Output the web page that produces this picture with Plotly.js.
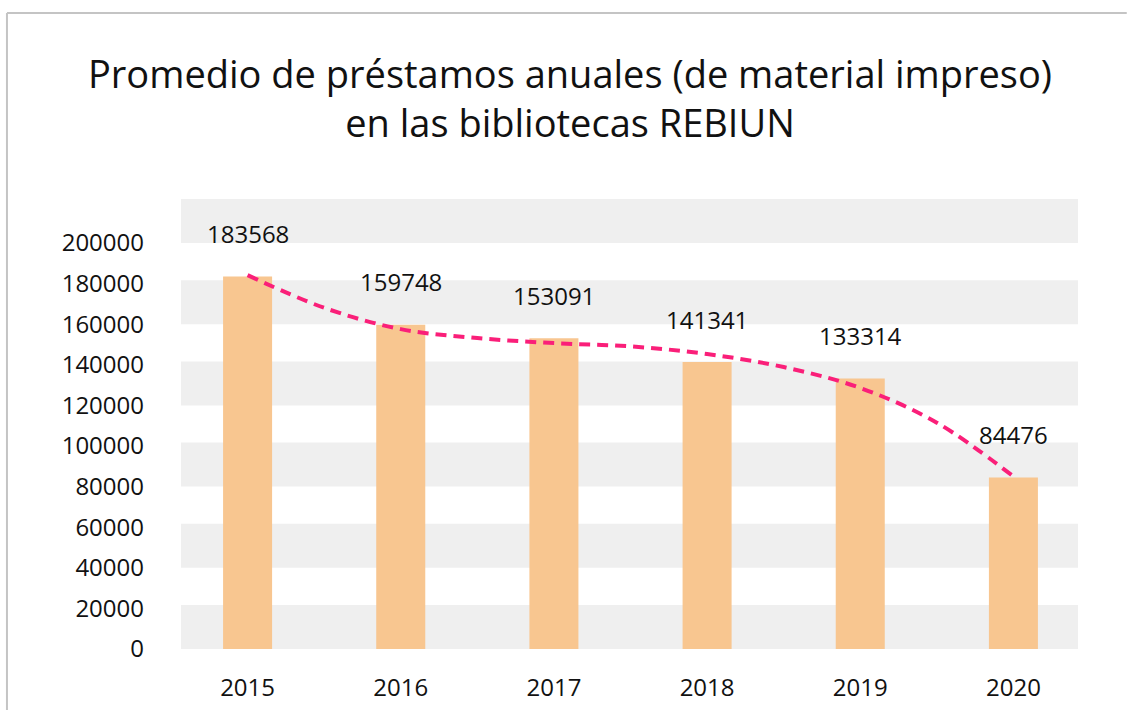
<!DOCTYPE html>
<html>
<head>
<meta charset="utf-8">
<script src="https://cdn.plot.ly/plotly-3.0.1.min.js"></script>
<style>html,body{margin:0;padding:0;background:#fff;}#chart{width:1131px;height:710px;}</style>
</head>
<body>
<div id="chart"></div>
<script>
// Data
const years = [2015, 2016, 2017, 2018, 2019, 2020];
const loans = [183568, 159748, 153091, 141341, 133314, 84476];
const labels = ['183568', '159748', '153091', '141341', '133314', '84476'];
// Trend line
const trendX = [2015, 2015.5, 2016, 2016.5, 2017, 2017.5, 2018, 2018.5, 2019, 2019.5, 2020];
const trendY = [184200, 168100, 157600, 153200, 150700, 149100, 145300, 138900, 128600, 111500, 85000];
const yTicks = [0, 20000, 40000, 60000, 80000, 100000, 120000, 140000, 160000, 180000, 200000];

const FONT = 'Open Sans, Lato, sans-serif';

const shapes = [];
for (let k = 0; k < 6; k++) {
  shapes.push({type: 'rect', xref: 'paper', yref: 'y', x0: 0.0109, x1: 0.987,
    y0: 40000 * k, y1: 40000 * k + 21700, fillcolor: '#efefef', line: {width: 0}, layer: 'below'});
}
// frame lines
shapes.push({type: 'line', xref: 'paper', yref: 'paper', x0: -0.1785, x1: 1.04, y0: 1.4133, y1: 1.4133, line: {color: '#c4c4c4', width: 2}});
shapes.push({type: 'line', xref: 'paper', yref: 'paper', x0: -0.1785, x1: -0.1785, y0: 1.4133, y1: -0.2, line: {color: '#c4c4c4', width: 2}});

const annotations = years.map((yr, i) => ({
  x: yr, y: loans[i], text: labels[i], showarrow: false, yshift: 43, yanchor: 'middle',
  font: {family: FONT, size: 24, color: '#111'}
}));

const traces = [
  {type: 'bar', x: years, y: loans, width: 0.32, marker: {color: '#f8c690'}, hoverinfo: 'x+y'},
  {type: 'scatter', mode: 'lines', x: trendX, y: trendY, line: {shape: 'spline', color: '#fa1f79', width: 4, dash: '11px,7px'}}
];

const layout = {
  width: 1131, height: 710,
  margin: {l: 171, r: 41, t: 199, b: 61},
  paper_bgcolor: '#fff', plot_bgcolor: 'rgba(0,0,0,0)',
  showlegend: false,
  title: {text: 'Promedio de préstamos anuales (de material impreso)<br>en las bibliotecas REBIUN',
    x: 0.504, xref: 'container', xanchor: 'center', y: 1 - 88/710, yref: 'container', yanchor: 'top',
    font: {family: FONT, size: 38, color: '#111'}},
  xaxis: {range: [2014.5, 2020.5], tickvals: years, ticktext: years.map(String), showgrid: false, zeroline: false,
    showline: false, ticks: '', ticklabelstandoff: 22, tickfont: {family: FONT, size: 24, color: '#111'}, fixedrange: true},
  yaxis: {range: [0, 221700], tickvals: yTicks, ticktext: yTicks.map(String), showgrid: false, zeroline: false,
    showline: false, ticks: '', ticklabelstandoff: 26, tickfont: {family: FONT, size: 24, color: '#111'}, fixedrange: true},
  shapes: shapes,
  annotations: annotations
};

Plotly.newPlot('chart', traces, layout, {displayModeBar: false, staticPlot: true});
</script>
</body>
</html>
